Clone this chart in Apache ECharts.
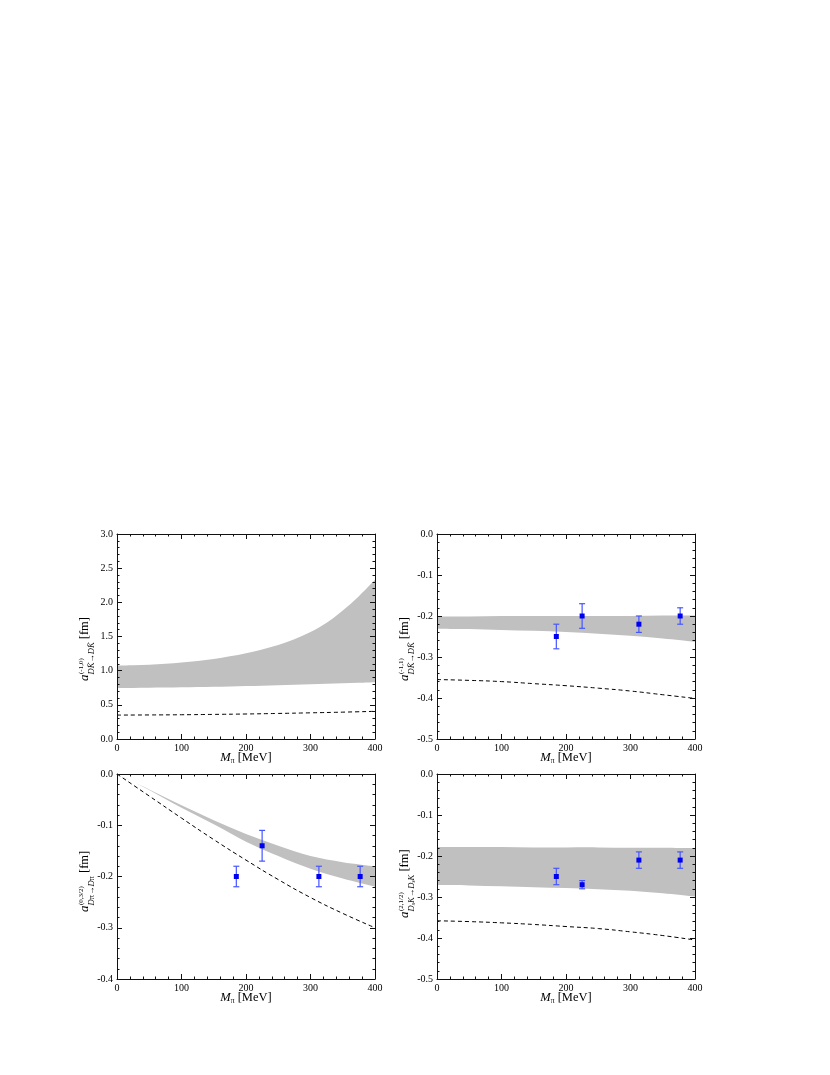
<!DOCTYPE html>
<html>
<head>
<meta charset="utf-8">
<script src="https://cdn.jsdelivr.net/npm/echarts@6/dist/echarts.min.js"></script>
<style>
  html, body { margin: 0; padding: 0; background: #fff; }
  #chart { width: 830px; height: 1075px; }
</style>
</head>
<body>
<div id="chart"></div>
<script>
// pion mass grids (MeV)
var mpi = [0, 50, 100, 150, 200, 250, 300, 350, 400];
var mpiFine = [0, 25, 50, 75, 100, 125, 150, 175, 200, 225, 250, 275, 300, 325, 350, 375, 400];

// panel 1: (-1,0) DKbar -> DKbar  (band on the fine grid)
var band1Lo = [0.745, 0.747, 0.75, 0.753, 0.757, 0.761, 0.765, 0.77, 0.775, 0.781, 0.787, 0.793, 0.8, 0.807, 0.815, 0.822, 0.83];
var band1Hi = [1.075, 1.079, 1.088, 1.102, 1.12, 1.143, 1.17, 1.21, 1.256, 1.31, 1.375, 1.46, 1.565, 1.7, 1.88, 2.09, 2.33];
var dash1 = [0.35, 0.352, 0.355, 0.36, 0.366, 0.374, 0.383, 0.393, 0.405];

// panel 2: (-1,1) DKbar -> DKbar
var band2Lo = [-0.231, -0.232, -0.234, -0.236, -0.239, -0.243, -0.248, -0.255, -0.263];
var band2Hi = [-0.201, -0.201, -0.2, -0.2, -0.2, -0.2, -0.2, -0.199, -0.199];
var dash2 = [-0.355, -0.357, -0.36, -0.365, -0.37, -0.376, -0.383, -0.392, -0.401];

// panel 3: (0,3/2) Dpi -> Dpi
var band3Lo = [0, -0.031, -0.066, -0.098, -0.132, -0.16, -0.185, -0.204, -0.22];
var band3Hi = [0, -0.03, -0.061, -0.09, -0.117, -0.14, -0.16, -0.172, -0.18];
var dash3 = [0, -0.043, -0.086, -0.128, -0.168, -0.206, -0.241, -0.272, -0.3];

// panel 4: (2,1/2) DsK -> DsK
var band4Lo = [-0.271, -0.272, -0.274, -0.276, -0.278, -0.281, -0.285, -0.291, -0.299];
var band4Hi = [-0.178, -0.178, -0.178, -0.179, -0.179, -0.179, -0.18, -0.18, -0.181];
var dash4 = [-0.358, -0.36, -0.363, -0.367, -0.372, -0.377, -0.385, -0.394, -0.405];

// lattice points (same pion masses in panels 2-4)
var latX = [185, 225, 313, 377];
var lat2Y = [-0.25, -0.2, -0.22, -0.2];
var lat2Err = [0.03, 0.03, 0.02, 0.02];
var lat3Y = [-0.2, -0.14, -0.2, -0.2];
var lat3Err = [0.02, 0.03, 0.02, 0.02];
var lat4Y = [-0.25, -0.27, -0.21, -0.21];
var lat4Err = [0.02, 0.01, 0.02, 0.02];

// axis ticks
var xTicks = [0, 400, 100];
var yTicks = [[0, 3, 0.5], [-0.5, 0, 0.1], [-0.4, 0, 0.1], [-0.5, 0, 0.1]];

var SERIF = 'Liberation Serif';
var chart = echarts.init(document.getElementById('chart'));

var grids = [
  { left: 117, top: 534, width: 258, height: 205 },
  { left: 437, top: 534, width: 258, height: 205 },
  { left: 117, top: 774, width: 258, height: 205 },
  { left: 437, top: 774, width: 258, height: 205 }
];

function pairs(xs, ys) {
  return xs.map(function (x, k) { return [x, ys[k]]; });
}

function baseAxis(i, pos, showLabel) {
  return {
    type: 'value', gridIndex: i, position: pos,
    axisLine: { show: true, onZero: false, lineStyle: { color: '#111', width: 1 } },
    axisTick: { show: true, inside: true, length: 5, lineStyle: { color: '#111' } },
    minorTick: { show: true, splitNumber: 5, length: 2.5, lineStyle: { color: '#111' } },
    splitLine: { show: false },
    axisLabel: { show: showLabel, fontFamily: SERIF, fontSize: 10, color: '#000' },
    z: 5
  };
}

var xAxes = [], yAxes = [];
for (var i = 0; i < 4; i++) {
  ['bottom', 'top'].forEach(function (p) {
    var a = baseAxis(i, p, p === 'bottom');
    a.min = xTicks[0]; a.max = xTicks[1]; a.interval = xTicks[2];
    a.axisLabel.margin = 4;
    xAxes.push(a);
  });
  ['left', 'right'].forEach(function (p) {
    var a = baseAxis(i, p, p === 'left');
    a.min = yTicks[i][0]; a.max = yTicks[i][1]; a.interval = yTicks[i][2];
    a.axisLabel.margin = 4;
    a.axisLabel.formatter = function (v) { return v.toFixed(1); };
    yAxes.push(a);
  });
}

// smooth curve through pixel points (Catmull-Rom -> cubic bezier)
function curve(pts) {
  var d = '';
  for (var k = 0; k < pts.length - 1; k++) {
    var p0 = pts[Math.max(k - 1, 0)], p1 = pts[k], p2 = pts[k + 1], p3 = pts[Math.min(k + 2, pts.length - 1)];
    var c1 = [p1[0] + (p2[0] - p0[0]) / 6, p1[1] + (p2[1] - p0[1]) / 6];
    var c2 = [p2[0] - (p3[0] - p1[0]) / 6, p2[1] - (p3[1] - p1[1]) / 6];
    d += ' C' + c1[0] + ' ' + c1[1] + ' ' + c2[0] + ' ' + c2[1] + ' ' + p2[0] + ' ' + p2[1];
  }
  return d;
}

function makeBand(xs, lo, hi) {
  return function (params, api) {
    if (params.dataIndex !== 0) return;
    var top = xs.map(function (x, k) { return api.coord([x, hi[k]]); });
    var bot = xs.map(function (x, k) { return api.coord([x, lo[k]]); }).reverse();
    var d = 'M' + top[0][0] + ' ' + top[0][1] + curve(top) +
      ' L' + bot[0][0] + ' ' + bot[0][1] + curve(bot) + ' Z';
    return { type: 'path', shape: { pathData: d }, style: { fill: '#c0c0c0', stroke: null } };
  };
}

function renderErr(params, api) {
  var x = api.value(0), y = api.value(1), e = api.value(2);
  var c = api.coord([x, y]);
  var t = api.coord([x, y + e]);
  var b = api.coord([x, y - e]);
  var cap = 3, s = 5;
  var bar = { stroke: '#4656ff', lineWidth: 1.2 };
  return {
    type: 'group',
    children: [
      { type: 'line', shape: { x1: c[0], y1: t[1], x2: c[0], y2: b[1] }, style: bar },
      { type: 'line', shape: { x1: c[0] - cap, y1: t[1], x2: c[0] + cap, y2: t[1] }, style: bar },
      { type: 'line', shape: { x1: c[0] - cap, y1: b[1], x2: c[0] + cap, y2: b[1] }, style: bar },
      { type: 'rect', shape: { x: c[0] - s / 2, y: c[1] - s / 2, width: s, height: s }, style: { fill: '#0000f0' } }
    ]
  };
}

var panels = [
  { xs: mpiFine, lo: band1Lo, hi: band1Hi, dash: dash1 },
  { xs: mpi, lo: band2Lo, hi: band2Hi, dash: dash2, y: lat2Y, err: lat2Err },
  { xs: mpi, lo: band3Lo, hi: band3Hi, dash: dash3, y: lat3Y, err: lat3Err },
  { xs: mpi, lo: band4Lo, hi: band4Hi, dash: dash4, y: lat4Y, err: lat4Err }
];

var series = [];
panels.forEach(function (p, i) {
  var xi = 2 * i, yi = 2 * i;
  series.push({
    type: 'custom', xAxisIndex: xi, yAxisIndex: yi, z: 2, silent: true,
    data: pairs(p.xs, p.hi), encode: { x: 0, y: 1 },
    renderItem: makeBand(p.xs, p.lo, p.hi)
  });
  series.push({
    type: 'line', xAxisIndex: xi, yAxisIndex: yi, data: pairs(mpi, p.dash),
    smooth: true, symbol: 'none', silent: true, z: 3,
    lineStyle: { color: '#000', width: 1, type: [4, 3] }
  });
  if (p.y) {
    series.push({
      type: 'custom', xAxisIndex: xi, yAxisIndex: yi, z: 4,
      data: latX.map(function (x, k) { return [x, p.y[k], p.err[k]]; }),
      encode: { x: 0, y: 1 },
      renderItem: renderErr
    });
  }
});

// axis titles
var subK = '{i|D}{i|K\u0304}{r|\u2192}{i|D}{i|K\u0304}';
var subPi = '{i|D}{g|\u03c0}{r|\u2192}{i|D}{g|\u03c0}';
var subDs = '{i|D}{s|s}{i|K}{r|\u2192}{i|D}{s|s}{i|K}';
var yTitles = [
  { x: 78, y: 681, sup: '(-1,0)', sub: subK },
  { x: 398, y: 681, sup: '(-1,1)', sub: subK },
  { x: 78, y: 912, sup: '(0,3/2)', sub: subPi },
  { x: 398, y: 918, sup: '(2,1/2)', sub: subDs }
];

var richY = {
  a: { fontFamily: SERIF, fontStyle: 'italic', fontSize: 13, lineHeight: 18, verticalAlign: 'top', color: '#000' },
  i: { fontFamily: SERIF, fontStyle: 'italic', fontSize: 8.5, lineHeight: 8, verticalAlign: 'bottom', color: '#000' },
  g: { fontFamily: SERIF, fontSize: 8.5, lineHeight: 8, verticalAlign: 'bottom', color: '#000' },
  r: { fontFamily: SERIF, fontSize: 8.5, lineHeight: 8, verticalAlign: 'bottom', color: '#000' },
  s: { fontFamily: SERIF, fontStyle: 'italic', fontSize: 6, lineHeight: 4, verticalAlign: 'bottom', color: '#000' },
  n: { fontFamily: SERIF, fontSize: 12.5, lineHeight: 18, verticalAlign: 'top', color: '#000' }
};

var graphics = [];
yTitles.forEach(function (t) {
  graphics.push({
    type: 'group', x: t.x, y: t.y, rotation: Math.PI / 2,
    children: [
      { type: 'text', x: 0, y: 0, style: { text: '{a|a}' + t.sub + '{n| [fm]}', rich: richY, align: 'left', verticalAlign: 'top' } },
      { type: 'text', x: 7, y: 3, style: { text: t.sup, fontFamily: SERIF, fontSize: 7, fill: '#000', align: 'left', verticalAlign: 'middle' } }
    ]
  });
});

var richX = {
  m: { fontFamily: SERIF, fontStyle: 'italic', fontSize: 12.5, lineHeight: 14, verticalAlign: 'top', color: '#000' },
  p: { fontFamily: SERIF, fontSize: 7.5, lineHeight: 5, verticalAlign: 'bottom', color: '#000' },
  n: { fontFamily: SERIF, fontSize: 12.5, lineHeight: 14, verticalAlign: 'top', color: '#000' }
};
[[246, 751], [566, 751], [246, 991], [566, 991]].forEach(function (pos) {
  graphics.push({
    type: 'text', x: pos[0], y: pos[1],
    style: { text: '{m|M}{p|\u03c0}{n| [MeV]}', rich: richX, align: 'center', verticalAlign: 'top' }
  });
});

chart.setOption({
  animation: false,
  backgroundColor: '#fff',
  grid: grids,
  xAxis: xAxes,
  yAxis: yAxes,
  series: series,
  graphic: graphics
});
</script>
</body>
</html>
